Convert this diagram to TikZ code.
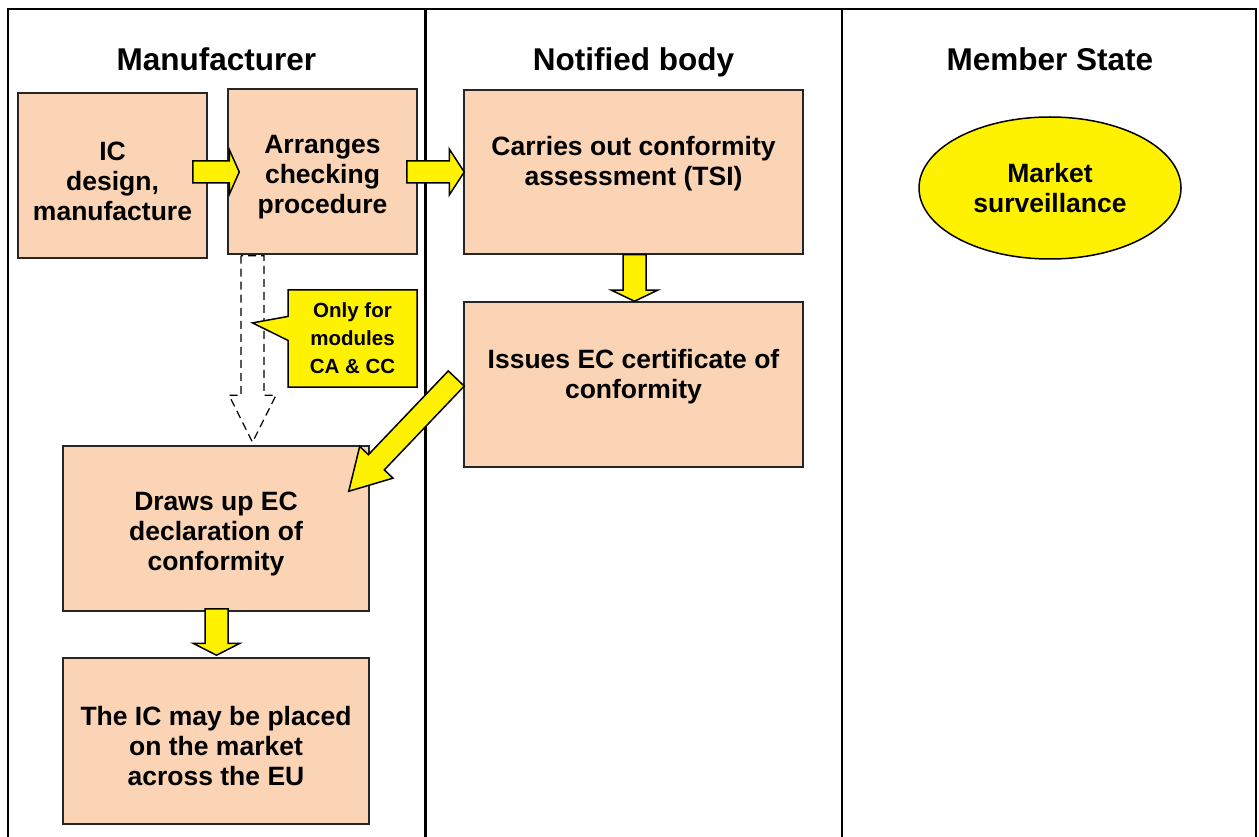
\documentclass[tikz,border=0pt]{standalone}
\usepackage{fontspec}
\setmainfont{Liberation Sans}
\usetikzlibrary{calc,shapes.geometric,shapes.callouts}
\definecolor{peach}{RGB}{250,212,180}
\newcommand{\topgap}{\rule{0pt}{30pt}}

% fat arrow: [style]{from}{to}{shaft half width}{head half width}{head length}
\newcommand{\fatarrow}[6][]{%
  \draw[#1] let \p1=#2, \p2=#3, \n1={atan2(\y2-\y1,\x2-\x1)}, \n2={veclen(\x2-\x1,\y2-\y1)} in
    [shift={(\p1)}, rotate=\n1]
    (0pt,-#4pt) -- ({\n2-#6pt},-#4pt) -- ({\n2-#6pt},-#5pt) -- (\n2,0pt)
    -- ({\n2-#6pt},#5pt) -- ({\n2-#6pt},#4pt) -- (0pt,#4pt) -- cycle;}

\begin{document}
\begin{tikzpicture}[x=1pt, y=-1pt,
    procbox/.style={draw=black!85, line width=1.5pt, fill=peach, inner sep=0pt, align=center,
      font=\bfseries\fontsize{26.5}{30}\selectfont},
    title/.style={anchor=base, font=\bfseries\fontsize{31.5}{36}\selectfont},
    yarrow/.style={draw=black, line width=1.5pt, fill=yellow},
    darrow/.style={draw=black, line width=1.2pt, dash pattern=on 8pt off 5pt}]
  \useasboundingbox (0,0) rectangle (1259,837);

  % lanes
  \draw[line width=2pt] (8,845) -- (8,9) -- (1256,9) -- (1256,845);
  \draw[line width=3pt] (425,9) -- (425,845);
  \draw[line width=2pt] (842,9) -- (842,845);

  \node[title] (manu) at (216.5,71) {Manufacturer};
  \node[title] (nb) at (633.5,71) {Notified body};
  \node[title] (mstate) at (1050,71) {Member State};

  \node[procbox, minimum width=189pt, minimum height=165pt] (ic) at (112.5,175.5) {\topgap IC\\design,\\manufacture};
  \node[procbox, minimum width=189pt, minimum height=165pt] (arr) at (322.5,171.5) {\topgap Arranges\\checking\\procedure};
  \node[procbox, minimum width=339pt, minimum height=164pt] (carry) at (633.5,172) {Carries out conformity\\assessment (TSI)\\[-8pt]\mbox{}};
  \node[procbox, minimum width=339pt, minimum height=165pt] (issue) at (633.5,384.5) {Issues EC certificate of\\conformity\\[-8pt]\mbox{}};
  \node[procbox, minimum width=306pt, minimum height=165pt] (draws) at (216,528.5) {\topgap Draws up EC\\declaration of\\conformity};
  \node[procbox, minimum width=306pt, minimum height=166pt] (placed) at (216,741) {\topgap The IC may be placed\\on the market\\across the EU};

  \node[ellipse, draw=black, line width=1.5pt, fill=yellow, minimum width=262pt, minimum height=142pt,
    inner sep=0pt, align=center, font=\bfseries\fontsize{26.5}{30}\selectfont] (surv) at (1050,188) {Market\\surveillance};

  \fatarrow[yarrow]{($(ic.east)+(-15,-3.5)$)}{($(arr.west)+(12,0.5)$)}{11}{22.5}{10}
  \fatarrow[yarrow]{($(arr.east)+(-11,0.5)$)}{($(carry.west)+(1,0)$)}{11}{23}{15}
  \fatarrow[yarrow]{($(carry.south)+(1,0)$)}{($(issue.north)+(1,0)$)}{11.5}{23}{11}
  \fatarrow[yarrow]{($(issue.west)+(-7,-6)$)}{($(draws.north east)+(-21,46)$)}{11}{23}{40}
  \fatarrow[yarrow]{($(draws.south)+(0.5,-3)$)}{($(placed.north)+(0.5,-2)$)}{11.5}{23.5}{12}

  \coordinate (dtop) at ($(arr.south)+(-70,1)$);
  \coordinate (dtip) at ($(draws.north)+(36.5,-3)$);
  \fatarrow[darrow]{(dtop)}{(dtip)}{11.5}{23.5}{47}

  \node[rectangle callout, draw=black, line width=1.5pt, fill=yellow, minimum width=129pt, minimum height=97pt,
    inner sep=0pt, align=center, font=\bfseries\fontsize{20.5}{28}\selectfont,
    callout absolute pointer={($(dtop)!0.36!(dtip)$)}, callout pointer width=24pt] (note) at (352.5,338.5)
    {Only for\\modules\\CA \& CC};
\end{tikzpicture}
\end{document}
